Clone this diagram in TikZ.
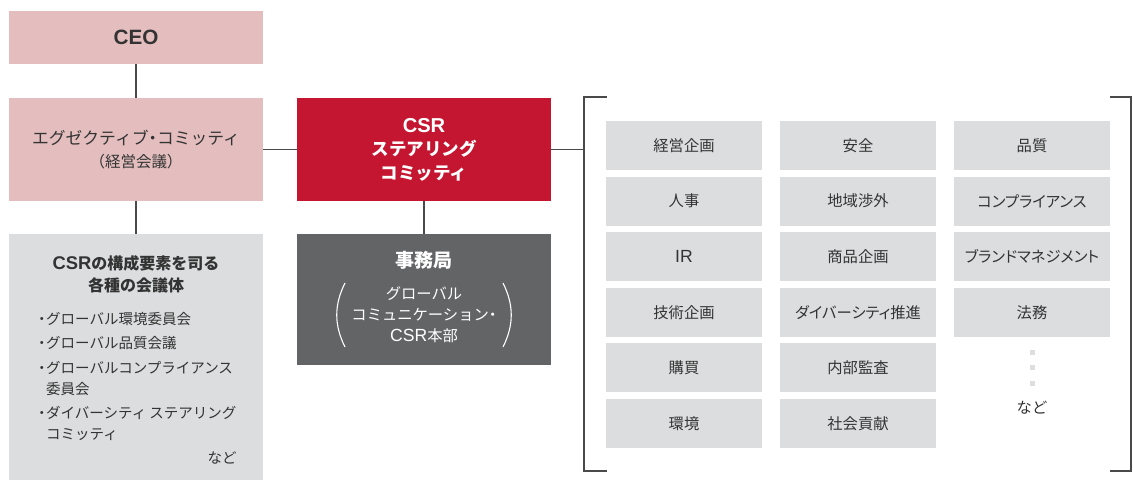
\documentclass[tikz,border=0pt]{standalone}
\usepackage{fontspec}
\setmainfont{Noto Sans CJK JP}
\newfontfamily\jpp{Noto Sans CJK JP}[RawFeature=+palt]
\newfontfamily\lat{Liberation Sans}[Scale=1.15]
\definecolor{pinkc}{HTML}{E4BEBE}
\definecolor{redc}{HTML}{C51631}
\definecolor{dgray}{HTML}{636466}
\definecolor{lgray}{HTML}{DCDDDF}
\definecolor{tcol}{HTML}{333333}
\definecolor{linec}{HTML}{4A4A4A}
\definecolor{dotc}{HTML}{DDDEE0}
\tikzset{
  blk/.style={rectangle, inner sep=0pt, outer sep=0pt, minimum width=254pt},
  pinkbox/.style={blk, fill=pinkc, text=tcol},
  conn/.style={draw=linec, line width=1.2pt},
  cell/.style={rectangle, inner sep=0pt, outer sep=0pt, fill=lgray, minimum width=156pt, minimum height=49pt, text=tcol, font=\jpp\fontsize{15.3}{18}\selectfont},
  item/.style={anchor=west, inner sep=0pt, align=left, text=tcol, font=\fontsize{14.5}{21}\selectfont},
  paren/.style={draw=white, line width=1.1pt}
}
\newcommand{\bul}{\makebox[0pt][r]{・\kern-3pt}}
\newcommand{\nd}{{\jpp ・}}
\begin{document}
\begin{tikzpicture}[x=1pt,y=-1pt]
\useasboundingbox (0,0) rectangle (1133,480);
% left column
\node[pinkbox, minimum height=53pt, font=\bfseries\fontsize{18}{22}\selectfont] (ceo) at (136,37.5) {{\lat CEO}};
\node[pinkbox, minimum height=103pt, align=center, font=\fontsize{16.8}{23}\selectfont] (exec) at (136,149.5)
  {エグゼクティブ\nd コミッティ\\{\fontsize{15.5}{23}\selectfont （経営会議）}};
\node[blk, fill=lgray, minimum height=246pt] (bodies) at (136,357) {};
\node[inner sep=0pt, align=center, text=tcol, font=\bfseries\fontsize{16}{22}\selectfont] (btitle) at (136,274)
  {{\lat CSR}の構成要素を司る\\各種の会議体};
\node[item] (b1) at (46,319) {\bul グローバル環境委員会};
\node[item] (b2) at (46,343) {\bul グローバル品質会議};
\node[item] (b3) at (46,378.5) {\bul グローバルコンプライアンス\\委員会};
\node[item] (b4) at (46,423) {\bul ダイバーシティ ステアリング\\コミッティ};
\node[inner sep=0pt, text=tcol, font=\fontsize{14.5}{18}\selectfont] (bnado) at (222,458) {など};
% center column
\node[blk, fill=redc, minimum height=103pt, align=center, text=white, font=\bfseries\fontsize{17.5}{23.5}\selectfont] (csr) at (424,149.5)
  {{\lat CSR}\\ステアリング\\コミッティ};
\node[blk, fill=dgray, minimum height=131pt] (sec) at (424,299.5) {};
\node[inner sep=0pt, text=white, font=\bfseries\fontsize{19}{22}\selectfont] (sectitle) at (424,260) {事務局};
\node[inner sep=0pt, align=center, text=white, font=\fontsize{15.3}{21}\selectfont] (secsub) at (424,314.5)
  {グローバル\\コミュニケーション\nd\\{\lat CSR}本部};
\draw[paren] (345,283) .. controls (334,305) and (334,325) .. (345,347);
\draw[paren] (503,283) .. controls (514,305) and (514,325) .. (503,347);
% connectors
\draw[conn] (ceo.south) -- (exec.north);
\draw[conn] (exec.south) -- (bodies.north);
\draw[conn] (exec.east) -- (csr.west);
\draw[conn] (csr.south) -- (sec.north);
\coordinate (br) at (584,149.5);
\draw[conn] (csr.east) -- (br);
% brackets
\draw[conn] (607,97) -- (584,97) -- (584,471) -- (607,471);
\draw[conn] (1110,97) -- (1131,97) -- (1131,471) -- (1110,471);
% grid
\foreach \t [count=\i] in {経営企画,人事,{\lat IR},技術企画,購買,環境}
  \node[cell] (a\i) at (684,{145.5+55.6*(\i-1)}) {\t};
\foreach \t [count=\i] in {安全,地域渉外,商品企画,ダイバーシティ推進,内部監査,社会貢献}
  \node[cell] (b\i) at (858,{145.5+55.6*(\i-1)}) {\t};
\foreach \t [count=\i] in {品質,コンプライアンス,ブランドマネジメント,法務}
  \node[cell] (c\i) at (1032,{145.5+55.6*(\i-1)}) {\t};
\foreach \yy [count=\i] in {352,367.5,383}
  \fill[dotc] (1029.5,\yy-2.5) rectangle ++(5,5);
\node[inner sep=0pt, text=tcol, font=\fontsize{15.3}{18}\selectfont] (gnado) at (1032,408) {など};
\end{tikzpicture}
\end{document}
